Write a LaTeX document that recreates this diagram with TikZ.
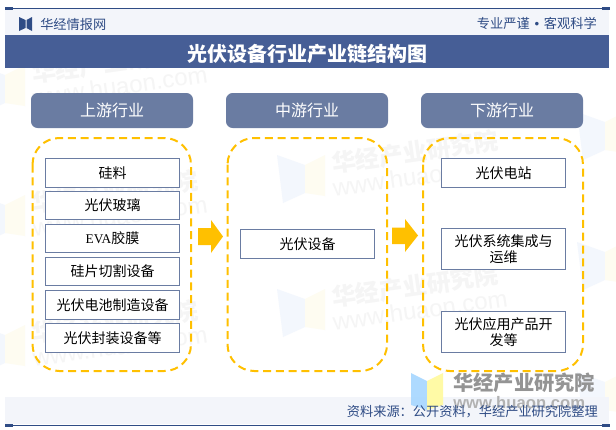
\documentclass[tikz,border=0pt]{standalone}
\usepackage{fontspec}
\setmainfont{Noto Sans CJK SC}
\newfontfamily\latinf{Liberation Sans}
\newfontfamily\latinser{Liberation Serif}
\definecolor{navy}{HTML}{2F4C85}
\definecolor{band}{HTML}{F3F5FA}
\definecolor{titlebar}{HTML}{465E96}
\definecolor{headbox}{HTML}{6A7CA2}
\definecolor{itemline}{HTML}{6A7CA2}
\definecolor{gold}{HTML}{FFC000}
\definecolor{wm}{HTML}{F5F5F5}
\definecolor{wmblue}{HTML}{F3F7FD}
\definecolor{wmyellow}{HTML}{FEFCF1}
\tikzset{
  x=0.75pt,y=-0.75pt,
  head/.style={draw=none,fill=headbox,rounded corners=5pt,text=white,font=\fontsize{12}{14}\selectfont,inner sep=0pt,outer sep=0pt,anchor=north west},
  group/.style={draw=gold,line width=1.5pt,dash pattern=on 6pt off 3.6pt,rounded corners=20pt,fill=none},
  item/.style={draw=itemline,line width=0.75pt,fill=white,text=black,font=\fontsize{10.5}{12.4}\selectfont,inner sep=0pt,outer sep=0pt,anchor=north west,align=center},
  blockarrow/.style={fill=gold,draw=none},
  wmtext/.style={text=wm,font=\bfseries\fontsize{18}{20}\selectfont,rotate=8,inner sep=0pt},
  wmurl/.style={text=wm,font=\latinf\fontsize{18}{20}\selectfont,rotate=8,inner sep=0pt},
  navytext/.style={text=navy,font=\fontsize{9.9}{12}\selectfont,inner sep=0pt}
}
\newcommand{\itembox}[6]{\node[item,minimum width=#3*0.75pt,minimum height=#4*0.75pt] (#5) at (#1,#2) {#6};}
\newcommand{\wlogo}[2]{%
  \fill[wmblue] (#1-58,#2-1) -- (#1-30,#2+9) -- (#1-30,#2+37) -- (#1-52,#2+47) -- cycle;
  \fill[wmyellow] (#1-30,#2+9) -- (#1-10,#2-1) -- (#1-10,#2+40) -- (#1-30,#2+37) -- cycle;
}
\newcommand{\wmark}[3]{%
  \wlogo{#1}{#2}
  \node[wmtext] (#3a) at (#1+80,#2-4) {华经产业研究院};
  \node[wmurl] (#3b) at (#1+85,#2+20) {www.huaon.com};
}
\begin{document}
\begin{tikzpicture}
\useasboundingbox (0,0) rectangle (616,429);
\fill[white] (0,0) rectangle (616,429);
% watermarks
\wmark{35}{66}{wa}
\wmark{335}{156}{wb}
\wmark{35}{196}{wc}
\wmark{335}{290}{wd}
\wmark{35}{326}{we}
\wlogo{635}{113}
\wlogo{635}{243}
\wlogo{635}{373}
% header band
\fill[band] (5,9) rectangle (609,35);
\draw[navy,line width=0.75pt] (5,8) -- (609,8);
\fill[navy] (5,7) rectangle (13,10);
\fill[navy] (602,7) rectangle (610,10);
\fill[navy] (19,17) -- (25.5,20) -- (25.5,28) -- (19,31) -- cycle;
\fill[navy] (32,17) -- (26.5,20) -- (26.5,28) -- (32,31) -- cycle;
\node[navytext,anchor=west] (brand) at (40,24) {华经情报网};
\node[navytext,anchor=east] (motto) at (597,23) {专业严谨\hspace{3.6pt}{\latinf •}\hspace{3.6pt}客观科学};
\fill[titlebar] (5,35) rectangle (609,68);
\node[text=white,font=\bfseries\fontsize{15}{17}\selectfont,inner sep=0pt] (title) at (307.5,54) {光伏设备行业产业链结构图};
% column heads
\node[head,minimum width=121.5pt,minimum height=26.25pt] (h1) at (31,93) {上游行业};
\node[head,minimum width=121.5pt,minimum height=26.25pt] (h2) at (226,93) {中游行业};
\node[head,minimum width=121.5pt,minimum height=26.25pt] (h3) at (421,93) {下游行业};
% dashed groups
\draw[group] (32.5,138) rectangle (191,371);
\draw[group] (227.5,138) rectangle (387,371);
\draw[group] (423,138) rectangle (583,371);
% upstream
\itembox{45.5}{158.5}{134}{28.5}{u1}{硅料}
\itembox{45.5}{191.5}{134}{28}{u2}{光伏玻璃}
\itembox{45.5}{224.5}{134}{28}{u3}{{\latinser\fontsize{10}{12}\selectfont EVA}胶膜}
\itembox{45.5}{257.5}{134}{28}{u4}{硅片切割设备}
\itembox{45.5}{290.5}{134}{29}{u5}{光伏电池制造设备}
\itembox{45.5}{323.5}{134}{29}{u6}{光伏封装设备等}
% midstream
\itembox{240.5}{229.5}{134}{29}{m1}{光伏设备}
% downstream
\itembox{441.5}{158.5}{124}{28.5}{d1}{光伏电站}
\itembox{441.5}{228.5}{124}{41}{d2}{光伏系统集成与\\运维}
\itembox{441.5}{311.5}{124}{41}{d3}{光伏应用产品开\\发等}
% arrows
\fill[blockarrow] (198,228) -- (211,228) -- (211,220) -- (223,236.5) -- (211,253) -- (211,245) -- (198,245) -- cycle;
\fill[blockarrow] (392,227.5) -- (405,227.5) -- (405,219) -- (418,235.5) -- (405,252) -- (405,244) -- (392,244) -- cycle;
% footer
\fill[band] (5,397) rectangle (609,424);
\fill[blue!45!cyan!35!white,opacity=0.9] (411,373) -- (427,381) -- (427,410) -- (411,405) -- cycle;
\fill[yellow!35!white] (427,381) -- (443,373) -- (443,405) -- (427,410) -- cycle;
\node[text=black!42,font=\bfseries\fontsize{15.2}{18}\selectfont,inner sep=0pt,anchor=west] (wmname) at (453,383) {华经产业研究院};
\node[text=black!30,font=\bfseries\latinf\fontsize{12.5}{15}\selectfont,inner sep=0pt,anchor=west] (wmsite) at (453,403) {www.huaon.com};
\draw[navy,line width=0.75pt] (5,425) -- (609,425);
\fill[navy] (5,424) rectangle (13,427);
\fill[navy] (602,424) rectangle (610,427);
\node[navytext,anchor=east] (source) at (598,412) {资料来源：公开资料，华经产业研究院整理};
\end{tikzpicture}
\end{document}
